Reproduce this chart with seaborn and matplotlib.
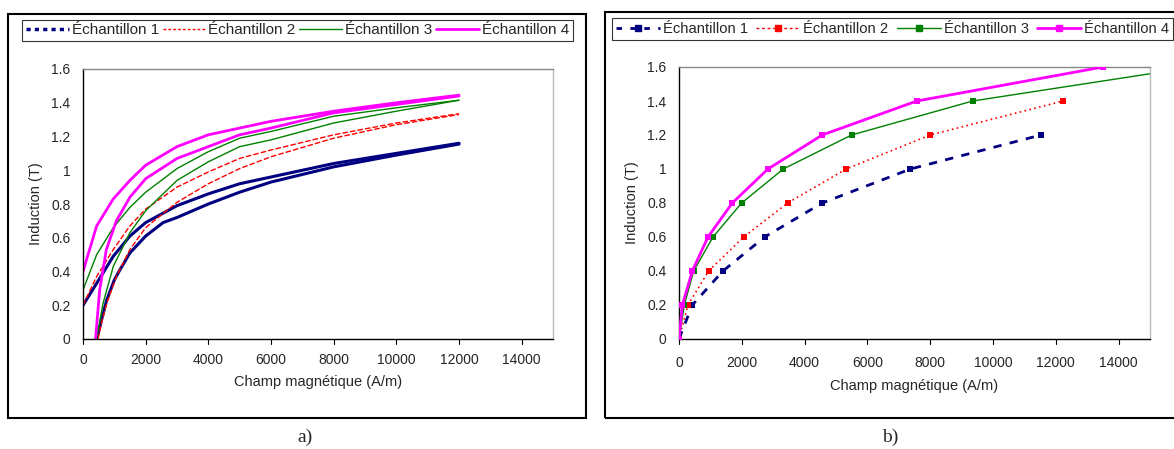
import numpy as np
import pandas as pd
import matplotlib
matplotlib.use("Agg")
import matplotlib.pyplot as plt
import seaborn as sns
from matplotlib.lines import Line2D
from matplotlib.patches import Rectangle

# ---- data ----
labels = ["Échantillon 1", "Échantillon 2", "Échantillon 3", "Échantillon 4"]

# a) upper / lower branches, H in A/m, B in T
h1_up = [0, 436, 966, 1497, 2000, 3000, 4000, 5000, 6000, 8000, 10000, 12000]
b1_up = [0.20, 0.33, 0.49, 0.61, 0.69, 0.79, 0.86, 0.92, 0.96, 1.04, 1.10, 1.16]
h1_lo = [440, 600, 755, 1000, 1178, 1497, 2000, 2557, 3000, 4000, 5000, 6000, 8000, 10000, 12000]
b1_lo = [0, 0.12, 0.23, 0.35, 0.41, 0.51, 0.61, 0.69, 0.72, 0.80, 0.87, 0.93, 1.02, 1.09, 1.155]

h2_up = [0, 436, 966, 1497, 2000, 3000, 4000, 5000, 6000, 8000, 10000, 12000]
b2_up = [0.20, 0.37, 0.53, 0.67, 0.77, 0.90, 0.99, 1.07, 1.12, 1.21, 1.28, 1.335]
h2_lo = [480, 600, 755, 1064, 1497, 2000, 3000, 4000, 5000, 6000, 8000, 10000, 12000]
b2_lo = [0, 0.10, 0.21, 0.37, 0.53, 0.66, 0.81, 0.92, 1.01, 1.08, 1.19, 1.27, 1.33]

h3_up = [0, 436, 966, 1497, 2000, 3000, 4000, 5000, 6000, 8000, 10000, 12000]
b3_up = [0.29, 0.50, 0.66, 0.78, 0.87, 1.01, 1.11, 1.19, 1.23, 1.32, 1.37, 1.415]
h3_lo = [430, 638, 966, 1497, 2000, 3000, 4000, 5000, 6000, 8000, 10000, 12000]
b3_lo = [0, 0.21, 0.43, 0.63, 0.76, 0.94, 1.05, 1.14, 1.18, 1.28, 1.35, 1.415]

h4_up = [0, 436, 966, 1497, 2000, 3000, 4000, 5000, 6000, 8000, 10000, 12000]
b4_up = [0.40, 0.67, 0.83, 0.94, 1.03, 1.14, 1.21, 1.25, 1.29, 1.35, 1.40, 1.445]
h4_lo = [400, 532, 745, 1064, 1497, 2000, 3000, 4000, 5000, 6000, 8000, 10000, 12000]
b4_lo = [0, 0.29, 0.53, 0.70, 0.84, 0.95, 1.07, 1.14, 1.21, 1.25, 1.34, 1.39, 1.44]

# b) first magnetisation curves
hb1 = [0, 424, 1400, 2727, 4562, 7371, 11527]
bb1 = [0, 0.2, 0.4, 0.6, 0.8, 1.0, 1.2]
hb2 = [0, 286, 944, 2058, 3459, 5326, 8000, 12234]
bb2 = [0, 0.2, 0.4, 0.6, 0.8, 1.0, 1.2, 1.4]
hb3 = [0, 170, 467, 1082, 1995, 3321, 5496, 9353, 16400]
bb3 = [0, 0.2, 0.4, 0.6, 0.8, 1.0, 1.2, 1.4, 1.6]
hb4 = [0, 106, 424, 923, 1698, 2833, 4562, 7574, 13499]
bb4 = [0, 0.2, 0.4, 0.6, 0.8, 1.0, 1.2, 1.4, 1.6]

xticks = [0, 2000, 4000, 6000, 8000, 10000, 12000, 14000]
yticks = [0, 0.2, 0.4, 0.6, 0.8, 1.0, 1.2, 1.4, 1.6]
ytlabels = ["0", "0.2", "0.4", "0.6", "0.8", "1", "1.2", "1.4", "1.6"]

colors = ["#000080", "#FF0000", "#008000", "#FF00FF"]

sns.set_style("white")
plt.rcParams["font.family"] = ["Liberation Sans", "DejaVu Sans"]

W, H = 1174, 449
fig = plt.figure(figsize=(W / 100, H / 100), dpi=100)


def px(x0, y0, x1, y1):
    return [x0 / W, 1 - y1 / H, (x1 - x0) / W, (y1 - y0) / H]


ax1 = fig.add_axes(px(83, 69, 553, 339))
ax2 = fig.add_axes(px(679, 67, 1150, 339))

# styles for panel a
sty_a = [dict(lw=2.2, ls="-"), dict(lw=1.0, ls=(0, (4, 1.5))),
         dict(lw=1.0, ls="-"), dict(lw=2.0, ls="-")]
branches = [(h1_up, b1_up, h1_lo, b1_lo), (h2_up, b2_up, h2_lo, b2_lo),
            (h3_up, b3_up, h3_lo, b3_lo), (h4_up, b4_up, h4_lo, b4_lo)]
for i, (hu, bu, hl, bl) in enumerate(branches):
    for hh, bb in [(hu, bu), (hl, bl)]:
        sns.lineplot(x=hh, y=bb, ax=ax1, color=colors[i], sort=False,
                     estimator=None, linewidth=sty_a[i]["lw"],
                     linestyle=sty_a[i]["ls"])

# styles for panel b
sty_b = [dict(lw=2.0, ls=(0, (3, 3))), dict(lw=1.2, ls=(0, (1, 2))),
         dict(lw=1.0, ls="-"), dict(lw=2.0, ls="-")]
curves = [(hb1, bb1), (hb2, bb2), (hb3, bb3), (hb4, bb4)]
for i, (hh, bb) in enumerate(curves):
    sns.lineplot(x=hh, y=bb, ax=ax2, color=colors[i], sort=False,
                 estimator=None, linewidth=sty_b[i]["lw"],
                 linestyle=sty_b[i]["ls"], marker="s", markersize=5,
                 markeredgewidth=0, zorder=3 + i)

for ax, tpad, lpad in [(ax1, 10, 6), (ax2, 12, 7)]:
    ax.set_xlim(0, 15000)
    ax.set_ylim(0, 1.6)
    ax.set_xticks(xticks)
    ax.set_xticklabels([str(t) for t in xticks])
    ax.set_yticks(yticks)
    ax.set_yticklabels(ytlabels)
    ax.tick_params(axis="y", direction="out", length=4, width=0.8,
                   labelsize=10, color="black", pad=5)
    ax.tick_params(axis="x", direction="in", length=0, labelsize=10, pad=tpad)
    for t in xticks:
        ax.plot([t, t], [0, -0.03], color="black", lw=0.8, clip_on=False)
    ax.spines["left"].set_color("black")
    ax.spines["bottom"].set_color("black")
    ax.spines["top"].set_color("#888888")
    ax.spines["right"].set_color("#BBBBBB")
    for s in ax.spines.values():
        s.set_linewidth(1.0)
    ax.set_xlabel("Champ magnétique (A/m)", fontsize=10.5, labelpad=lpad)
    ax.set_ylabel("Induction (T)", fontsize=10.5, labelpad=6)
    ax.grid(False)

# legends
ha = [Line2D([], [], color=colors[0], lw=2.5, ls=(0, (1.2, 1.2))),
      Line2D([], [], color=colors[1], lw=1.0, ls=(0, (2, 1.5))),
      Line2D([], [], color=colors[2], lw=1.0),
      Line2D([], [], color=colors[3], lw=2.0)]
hb = [Line2D([], [], color=colors[0], lw=2.0, ls=(0, (2, 3)), marker="s", markersize=5),
      Line2D([], [], color=colors[1], lw=1.0, ls=(0, (2, 2)), marker="s", markersize=5),
      Line2D([], [], color=colors[2], lw=1.0, marker="s", markersize=5),
      Line2D([], [], color=colors[3], lw=2.0, marker="s", markersize=5)]
for handles, box, fs, hl in [(ha, (22, 17, 573, 44), 11, 2.8),
                             (hb, (612, 16, 1173, 42), 10.6, 3.0)]:
    leg = fig.legend(handles=handles, labels=labels, ncol=4,
                     loc="center", bbox_to_anchor=px(*box),
                     mode="expand", fontsize=fs, handlelength=hl,
                     handletextpad=0.2, columnspacing=0.4, borderpad=0.25,
                     borderaxespad=0, frameon=True, fancybox=False)
    leg.get_frame().set_edgecolor("black")
    leg.get_frame().set_linewidth(0.8)

# outer chart frames
for x0, y0, x1, y1 in [(8, 14, 586, 418), (605, 12, 1185, 418)]:
    r = px(x0, y0, x1, y1)
    fig.patches.append(Rectangle((r[0], r[1]), r[2], r[3], transform=fig.transFigure,
                                 fill=False, edgecolor="black", lw=1.5))

fig.text(305 / W, 1 - 437 / H, "a)", ha="center", va="center", fontsize=14,
         family="Liberation Serif")
fig.text(890 / W, 1 - 437 / H, "b)", ha="center", va="center", fontsize=14,
         family="Liberation Serif")

fig.savefig("out.png", dpi=100)
